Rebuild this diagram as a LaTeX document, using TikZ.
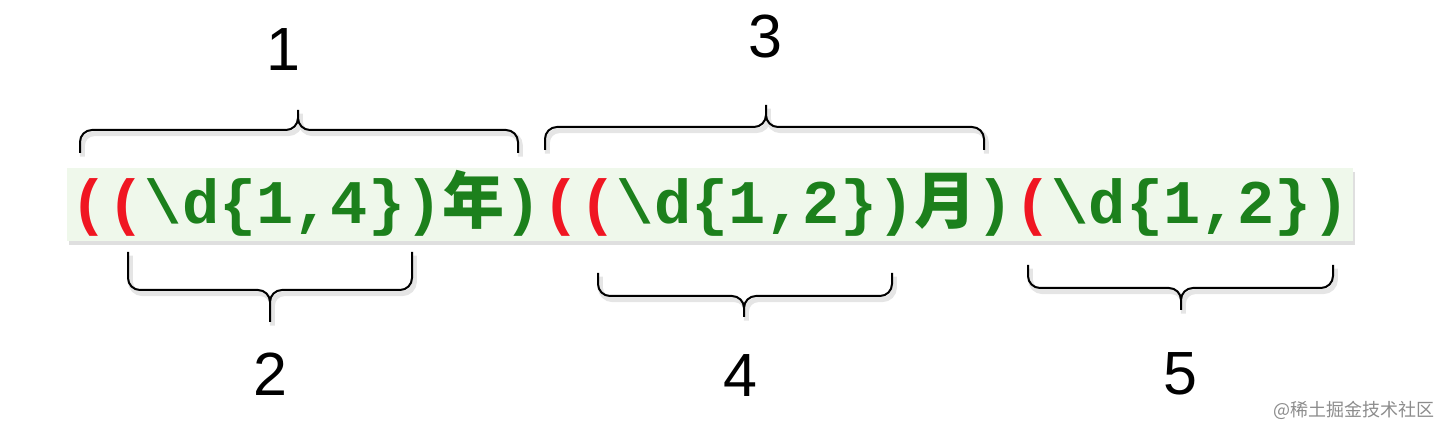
\documentclass[tikz,border=0pt]{standalone}
\usepackage{fontspec}
\setmainfont{Liberation Sans}
\setmonofont{Liberation Mono}
\newfontfamily\cjkfont{Noto Sans CJK SC}
\usetikzlibrary{positioning,shadows}
\definecolor{regexgreen}{RGB}{28,128,28}
\definecolor{regexred}{RGB}{240,22,34}
\definecolor{codebg}{RGB}{239,248,235}

\begin{document}
\begin{tikzpicture}[x=0.5pt,y=-0.5pt,
    code/.style={inner sep=0pt,anchor=base west,text=regexgreen,
      font=\fontsize{31}{31}\selectfont\ttfamily\bfseries},
    open/.style={text=regexred},
    num/.style={inner sep=0pt,font=\fontsize{30.5}{30.5}\selectfont},
    brace/.style={line width=1pt,rounded corners=6pt,
      preaction={draw=black!10,line width=2.5pt,
        transform canvas={xshift=1.2pt,yshift=-1.8pt}}}]
  \useasboundingbox (0,0) rectangle (1440,426);
  % code strip
  \fill[codebg,drop shadow={shadow xshift=1pt,shadow yshift=-2pt,opacity=.25}]
    (67,168) rectangle (1353,241);
  \node[code] (year) at (70,224)
    {\textcolor{regexred}{((}\textbackslash d\{1,4\}){\cjkfont\bfseries 年})};
  \node[code,right=0pt of year.base east,anchor=base west] (month)
    {\textcolor{regexred}{((}\textbackslash d\{1,2\}){\cjkfont\bfseries 月})};
  \node[code,right=0pt of month.base east,anchor=base west] (day)
    {\textcolor{regexred}{(}\textbackslash d\{1,2\})};
  % braces above
  \draw[brace] (80,153) -- (80,130) -- (298,130) -- (298,110)
    (298,110) -- (298,130) -- (518,130) -- (518,153);
  \draw[brace] (545,150) -- (545,127) -- (766,127) -- (766,105)
    (766,105) -- (766,127) -- (984,127) -- (984,150);
  % braces below
  \draw[brace] (128,252) -- (128,290) -- (270,290) -- (270,322)
    (270,322) -- (270,290) -- (412,290) -- (412,252);
  \draw[brace] (598,273) -- (598,296) -- (744,296) -- (744,317)
    (744,317) -- (744,296) -- (892,296) -- (892,273);
  \draw[brace] (1028,265) -- (1028,288) -- (1181,288) -- (1181,310)
    (1181,310) -- (1181,288) -- (1333,288) -- (1333,265);
  % group numbers
  \node[num] (n1) at (283,50) {1};
  \node[num] (n2) at (270,374) {2};
  \node[num] (n3) at (765,37) {3};
  \node[num] (n4) at (740,376) {4};
  \node[num] (n5) at (1180,374) {5};
  \node[inner sep=0pt,anchor=east,text=black!45,
    font=\fontsize{9}{9}\selectfont\cjkfont] (mark) at (1435,410)
    {@稀土掘金技术社区};
\end{tikzpicture}
\end{document}
